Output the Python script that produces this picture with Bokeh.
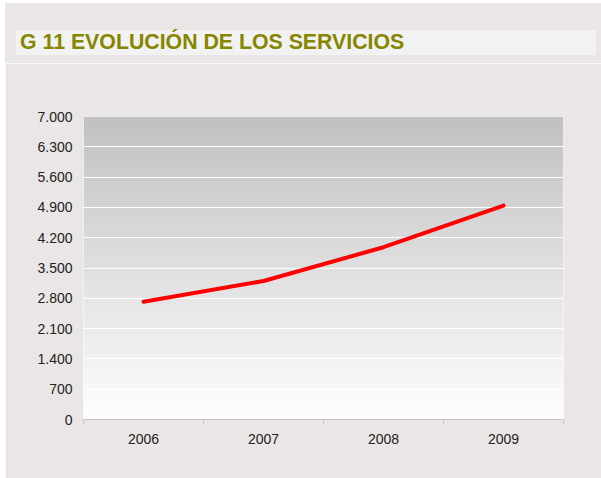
import numpy as np
from bokeh.plotting import figure
from bokeh.models import Range1d, FixedTicker, Spacer, Div
from bokeh.layouts import column, row
from bokeh.embed import file_html
from bokeh.resources import INLINE

title_text = "G 11 EVOLUCIÓN DE LOS SERVICIOS"
years = ["2006", "2007", "2008", "2009"]
servicios = [2720, 3200, 3980, 4940]
y_ticks = [0, 700, 1400, 2100, 2800, 3500, 4200, 4900, 5600, 6300, 7000]
y_tick_labels = ["0", "700", "1.400", "2.100", "2.800", "3.500", "4.200", "4.900", "5.600", "6.300", "7.000"]

BG = "#ebe6e6"
FONT = "Liberation Sans"

n_cat = len(years)
x_pos = [i + 0.5 for i in range(n_cat)]          # category centres
x_bounds = [float(i) for i in range(n_cat + 1)]  # category boundaries

title_div = Div(
    text=('<div style="position:relative; left:11px; top:27px; width:580px; height:25px; '
          'box-sizing:border-box; padding-left:4px; background-color:#f2f2f2; '
          "font-family:'Liberation Sans'; font-weight:bold; font-size:21.3px; "
          'line-height:25px; color:#868600; white-space:nowrap;">' + title_text + '</div>'),
    width=596, height=60,
    styles={"background-color": BG, "margin": "0", "padding": "0"},
)

p = figure(width=596, height=415, x_range=Range1d(0, n_cat), y_range=Range1d(0, 7000),
           output_backend="svg", toolbar_location=None,
           min_border_left=78, min_border_right=38, min_border_top=53, min_border_bottom=59)
p.border_fill_color = BG
p.background_fill_color = "#ffffff"
p.outline_line_color = None

# gradient background (image level, under the grid)
n = 256
shades = np.linspace(254, 193, n).astype(np.uint8)
img = np.empty((n, 2), dtype=np.uint32)
view = img.view(dtype=np.uint8).reshape((n, 2, 4))
view[:, :, 0] = shades[:, None]
view[:, :, 1] = shades[:, None]
view[:, :, 2] = shades[:, None]
view[:, :, 3] = 255
p.image_rgba(image=[img], x=0, y=0, dw=n_cat, dh=7000, level="image")

# grid
p.xgrid.grid_line_color = None
p.ygrid.ticker = FixedTicker(ticks=y_ticks)
p.ygrid.grid_line_color = "#ffffff"
p.ygrid.grid_line_width = 1

# y axis
p.yaxis.ticker = FixedTicker(ticks=y_ticks)
p.yaxis.major_label_overrides = {t: l for t, l in zip(y_ticks, y_tick_labels)}
p.yaxis.axis_line_color = None
p.yaxis.major_tick_line_color = None
p.yaxis.major_tick_out = 0
p.yaxis.major_tick_in = 0
p.yaxis.minor_tick_line_color = None
p.yaxis.minor_tick_out = 0
p.yaxis.minor_tick_in = 0
p.yaxis.major_label_text_font = FONT
p.yaxis.major_label_text_font_size = "14px"
p.yaxis.major_label_text_color = "#222222"
p.yaxis.major_label_standoff = 11

# x axis: labels at centres, tick marks at boundaries
p.xaxis.ticker = FixedTicker(ticks=x_pos, minor_ticks=x_bounds)
p.xaxis.major_label_overrides = {x: y for x, y in zip(x_pos, years)}
p.xaxis.axis_line_color = "#c8c4c4"
p.xaxis.major_tick_line_color = None
p.xaxis.major_tick_out = 0
p.xaxis.major_tick_in = 0
p.xaxis.minor_tick_line_color = "#c8c4c4"
p.xaxis.minor_tick_in = 0
p.xaxis.minor_tick_out = 5
p.xaxis.major_label_text_font = FONT
p.xaxis.major_label_text_font_size = "14px"
p.xaxis.major_label_text_color = "#222222"
p.xaxis.major_label_standoff = 9

# line
p.line(x=x_pos, y=servicios, line_color="#ff0000", line_width=4, line_cap="round")

layout = column(Spacer(height=3), row(Spacer(width=5), column(title_div, p, spacing=0)), spacing=0)
open("out.html", "w").write(file_html(layout, INLINE))
